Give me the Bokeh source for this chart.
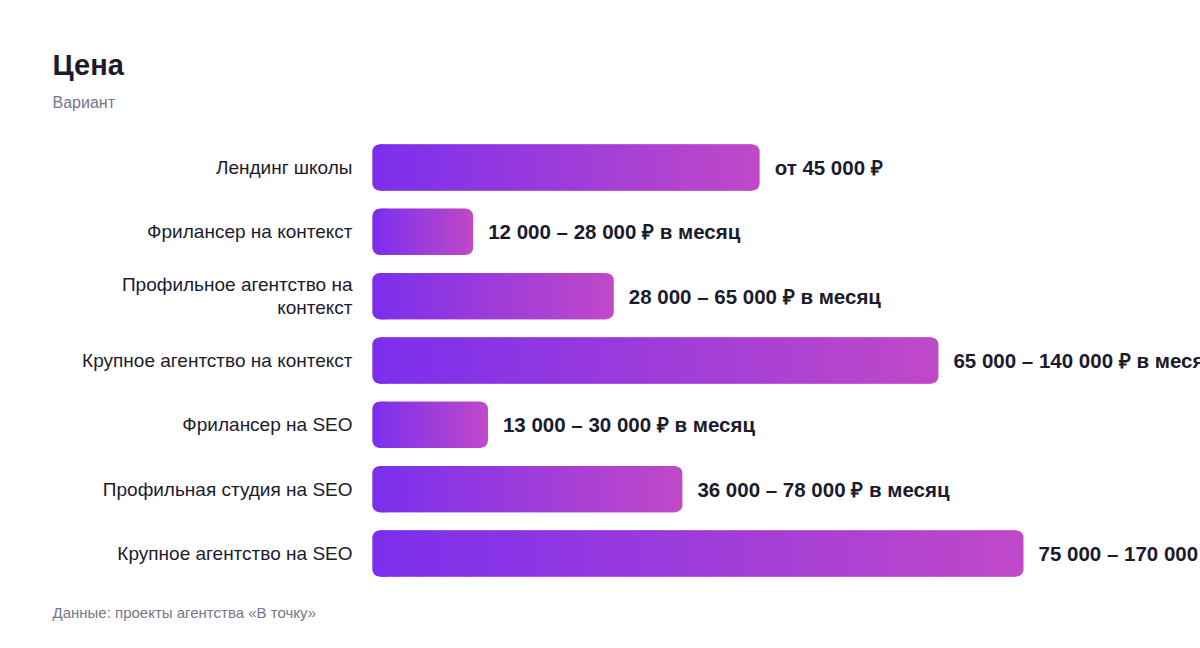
from bokeh.plotting import figure
from bokeh.models import Range1d, ColumnDataSource
from bokeh.core.properties import value
from bokeh.embed import file_html
from bokeh.resources import INLINE

# ---------------- data ----------------
categories = [
    "Лендинг школы",
    "Фрилансер на контекст",
    "Профильное агентство на\nконтекст",
    "Крупное агентство на контекст",
    "Фрилансер на SEO",
    "Профильная студия на SEO",
    "Крупное агентство на SEO",
]
bar_values = [44600, 11600, 27800, 65200, 13300, 35700, 75000]
value_labels = [
    "от 45 000 ₽",
    "12 000 – 28 000 ₽ в месяц",
    "28 000 – 65 000 ₽ в месяц",
    "65 000 – 140 000 ₽ в месяц",
    "13 000 – 30 000 ₽ в месяц",
    "36 000 – 78 000 ₽ в месяц",
    "75 000 – 170 000 ₽ в месяц",
]
title_text = "Цена"
subtitle_text = "Вариант"
footer_text = "Данные: проекты агентства «В точку»"

# ---------------- layout ----------------
W, H = 1200, 648
X0 = 372.0          # canvas px of value 0
PX = 0.00868        # px per value unit
ROW0 = 167.0        # canvas px of first row centre
ROW = 64.33         # px per row
RADIUS = 7
SLICE_PX = 3.0
START = (123, 47, 237)
END = (192, 73, 200)

def dx(px):
    return (px - X0) / PX

def dy(py):
    return (py - ROW0) / ROW

def hexc(c):
    return "#%02x%02x%02x" % c

def lerp(t):
    return tuple(int(round(START[j] + (END[j] - START[j]) * t)) for j in range(3))

p = figure(
    width=W, height=H,
    x_range=Range1d(dx(0), dx(W)),
    y_range=Range1d(start=dy(H), end=dy(0)),
    x_axis_type=None, y_axis_type=None,
    output_backend="svg", toolbar_location=None, tools="",
    min_border=0,
)
p.outline_line_color = None
p.grid.visible = False
p.background_fill_color = "white"
p.border_fill_color = "white"

ys = list(range(len(categories)))
bar_h = 46 / ROW
r_d = RADIUS / PX

# underlay: full bar in end colour, left cap in start colour
p.hbar(y=ys, left=0, right=bar_values, height=bar_h, fill_color=hexc(END),
       line_color=None, border_radius=RADIUS)
p.hbar(y=ys, left=0, right=[2 * r_d] * len(bar_values), height=bar_h,
       fill_color=hexc(START), line_color=None,
       border_radius=(RADIUS, 0, 0, RADIUS))

# gradient slices
sl, sr, sy, sc = [], [], [], []
for i, v in enumerate(bar_values):
    a, b = r_d, v - r_d
    n = max(10, int((b - a) * PX / SLICE_PX))
    step = (b - a) / n
    for k in range(n):
        l = a + step * k
        r = a + step * (k + 1)
        t = ((l + r) / 2) / v
        if k < n - 1:
            r += step * 0.8
        sl.append(l); sr.append(r); sy.append(i); sc.append(hexc(lerp(t)))
src = ColumnDataSource(dict(left=sl, right=sr, y=sy, color=sc))
p.hbar(y="y", left="left", right="right", height=bar_h, fill_color="color",
       line_color=None, source=src)

FONT = value("Liberation Sans")
DARK = "#1b1b2d"
GRAY = "#76768a"

# category labels
p.text(x=[0] * len(ys), y=ys, text=categories, x_offset=-20,
       text_align="right", text_baseline="middle", text_font=FONT,
       text_font_size="19px", text_color=DARK, text_line_height=1.1)

# value labels
p.text(x=bar_values, y=ys, text=value_labels, x_offset=15,
       text_align="left", text_baseline="middle", text_font=FONT,
       text_font_size="20.5px", text_font_style="bold", text_color=DARK)

# title, subtitle, footer
p.text(x=[dx(52)], y=[dy(64)], text=[title_text], text_align="left",
       text_baseline="middle", text_font=FONT, text_font_size="29px",
       text_font_style="bold", text_color=DARK)
p.text(x=[dx(52)], y=[dy(102)], text=[subtitle_text], text_align="left",
       text_baseline="middle", text_font=FONT, text_font_size="16px",
       text_color=GRAY)
p.text(x=[dx(52)], y=[dy(612)], text=[footer_text], text_align="left",
       text_baseline="middle", text_font=FONT, text_font_size="15px",
       text_color=GRAY)

open("out.html", "w").write(file_html(p, INLINE))
